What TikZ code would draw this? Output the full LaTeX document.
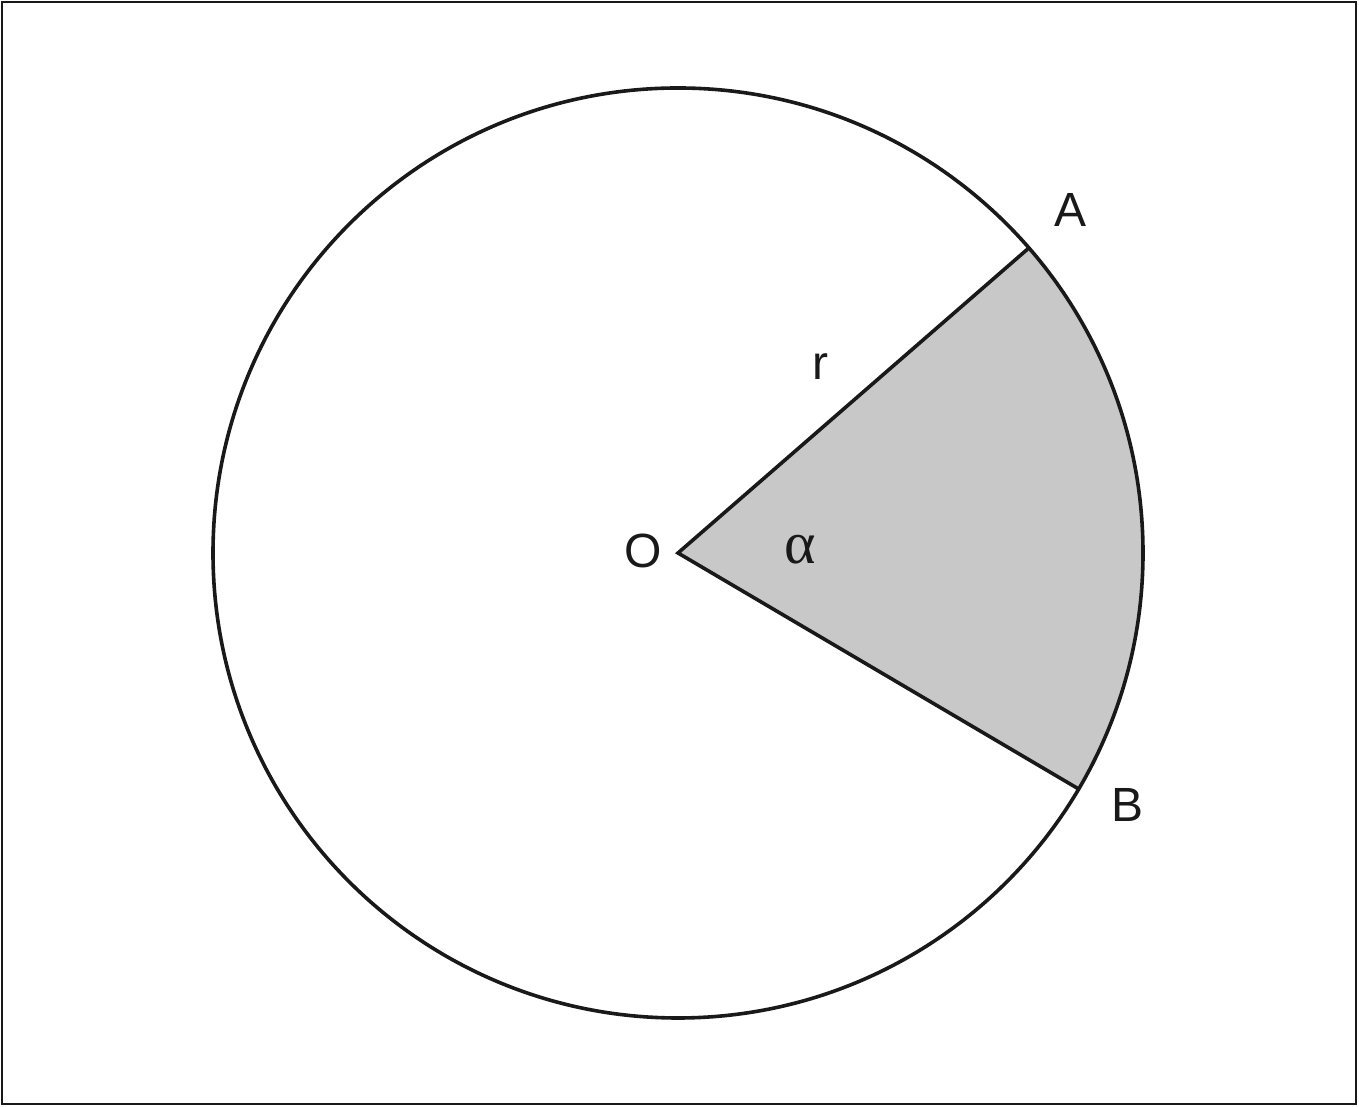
\documentclass[tikz,border=0pt]{standalone}
\usepackage{fontspec}
\setmainfont{Liberation Sans}
\newfontfamily\serifgreek{Liberation Serif}
\usetikzlibrary{calc}
\begin{document}
\begin{tikzpicture}[x=0.5pt,y=0.5pt,
  stroke/.style={draw=black!90,line width=1.8pt},
  lbl/.style={inner sep=0pt,font=\fontsize{24}{28}\selectfont,text=black!90},
  greek/.style={inner sep=0pt,font=\serifgreek\fontsize{30}{34}\selectfont,text=black!90}]
\useasboundingbox (0,0) rectangle (1359,1107);
\draw[black!90,line width=1.2pt] (2,3) rectangle (1356,1105);
\coordinate (O) at (678,554);
\coordinate (A) at ($(O)+(41:232.5pt)$);
\coordinate (B) at ($(O)+(-30.5:232.5pt)$);
\fill[fill={rgb,255:red,200;green,200;blue,200}] (O) -- (A) arc[start angle=41,end angle=-30.5,radius=232.5pt] -- cycle;
\draw[stroke] (O) circle[radius=232.5pt];
\draw[stroke,line join=miter] (A) -- (O) -- (B);
\node[lbl] (lA) at (1070,897) {A};
\node[lbl] (lB) at (1127,302) {B};
\node[lbl] (lO) at (643,556) {O};
\node[lbl] (lr) at (820,740) {r};
\node[greek] (la) at (800,557) {α};
\end{tikzpicture}
\end{document}
